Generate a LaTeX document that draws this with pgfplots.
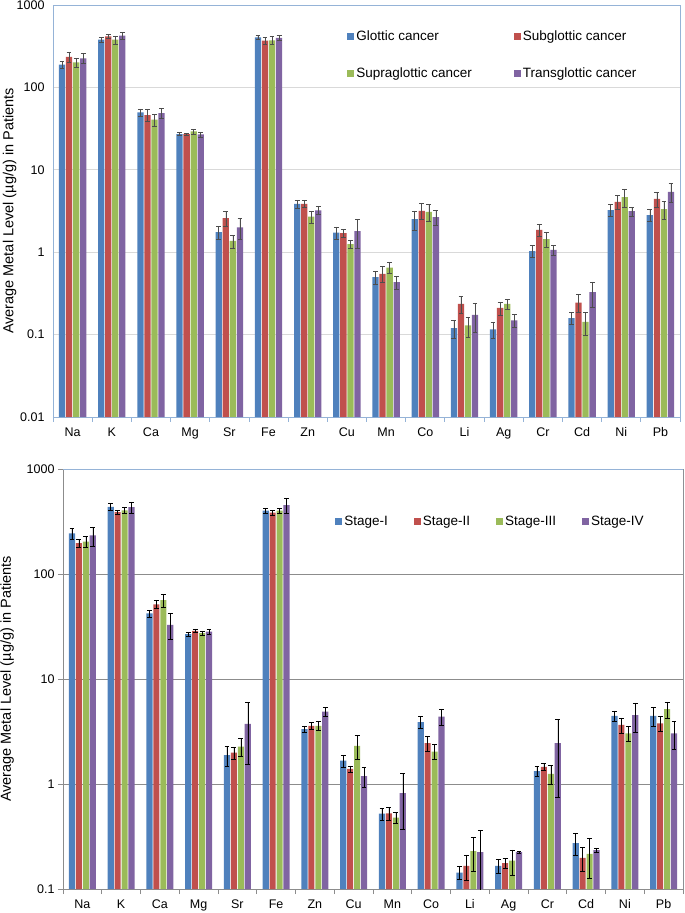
\documentclass[border=0pt]{standalone}
\usepackage{pgfplots}
\pgfplotsset{compat=1.18}
\usepackage{pgfplotstable}
\usepackage{fontspec}
\setmainfont{Liberation Sans}
\definecolor{cB}{HTML}{4F81BD}
\definecolor{cR}{HTML}{C0504D}
\definecolor{cG}{HTML}{9BBB59}
\definecolor{cP}{HTML}{8064A2}
\definecolor{frameblue}{HTML}{95B3D7}
\definecolor{gridlight}{HTML}{D9D9D9}
\definecolor{gridgrey}{HTML}{8C8C8C}
\definecolor{errgrey}{HTML}{4D4D4D}

\pgfplotstableread{
x a ae b be c ce d de
0 189 19 234 33 201 24 225 31
1 379 29 417 28 379 42 424 40
2 49.8 5 46.2 7.4 40.6 6.5 48.9 7.3
3 27.1 1.1 27.1 0.8 29.2 2 26.9 1.8
4 1.75 0.3 2.59 0.52 1.37 0.25 2.0 0.55
5 405 23 369 36 373 43 398 30
6 3.86 0.42 3.86 0.4 2.71 0.47 3.21 0.35
7 1.73 0.3 1.70 0.2 1.25 0.15 1.80 0.7
8 0.50 0.09 0.546 0.12 0.652 0.1 0.432 0.08
9 2.52 0.65 3.18 0.7 3.09 0.7 2.66 0.55
10 0.120 0.029 0.236 0.057 0.129 0.035 0.173 0.067
11 0.116 0.027 0.211 0.038 0.236 0.034 0.149 0.026
12 1.03 0.17 1.87 0.3 1.44 0.3 1.07 0.15
13 0.158 0.026 0.245 0.06 0.143 0.044 0.327 0.11
14 3.24 0.55 4.09 0.75 4.66 1.2 3.15 0.4
15 2.81 0.47 4.45 0.95 3.33 0.8 5.41 1.4
}\topdata

\pgfplotstableread{
x a ae b be c ce d de
0 244 30 197 16 203 24 233 48
1 437 33 389 16 404 27 434 53
2 42.1 3 51.3 4.5 56.4 8 32.8 9
3 26.7 1 28.8 1.2 27.4 1.3 28.2 1.5
4 1.88 0.4 1.99 0.27 2.27 0.45 3.74 2.2
5 401 25 384 22 401 22 454 75
6 3.33 0.25 3.58 0.28 3.58 0.35 4.9 0.45
7 1.67 0.22 1.39 0.1 2.31 0.6 1.19 0.25
8 0.522 0.07 0.526 0.07 0.479 0.06 0.817 0.45
9 3.88 0.5 2.45 0.4 2.04 0.33 4.39 0.8
10 0.143 0.02 0.166 0.045 0.229 0.08 0.224 0.14
11 0.166 0.025 0.176 0.02 0.186 0.05 0.224 0.005
12 1.33 0.15 1.46 0.1 1.25 0.25 2.45 1.7
13 0.274 0.065 0.198 0.05 0.216 0.09 0.234 0.01
14 4.46 0.5 3.66 0.6 3.03 0.5 4.52 1.4
15 4.46 0.9 3.79 0.6 5.16 0.9 3.03 0.9
}\botdata

\pgfplotsset{
  mycommonaxis/.style={
    scale only axis,
    log origin=infty,
    xmin=-0.5, xmax=15.5,
    bar width=0.16,
    xtick={0,...,15},
    xticklabels={Na,K,Ca,Mg,Sr,Fe,Zn,Cu,Mn,Co,Li,Ag,Cr,Cd,Ni,Pb},
    minor xtick={-0.5,0.5,...,15.5},
    xtick pos=left, ytick pos=left,
    tick align=outside,
    major tick length=5pt,
    minor tick length=5pt,
    yminorticks=false,
    ymajorgrids,
    /pgf/number format/assume math mode=true,
    tick label style={font=\fontsize{12.5}{14}\selectfont},
    xticklabel style={yshift=-2pt},
    label style={font=\fontsize{14.5}{16}\selectfont},
    legend style={font=\fontsize{13.5}{15}\selectfont, draw=none, fill=none, inner sep=0pt},
    legend cell align=left,
    ylabel={Average Metal Level (µg/g) in Patients},
  },
  errb/.style={error bars/.cd, y dir=both, y explicit,
    error bar style={#1, line width=0.6pt},
    error mark options={rotate=90, mark size=2.4pt, #1, line width=0.6pt}},
}

\begin{document}
\begin{tikzpicture}
\path[use as bounding box] (0,0) rectangle (685pt,-913pt);
% ---------- top chart ----------
\begin{axis}[mycommonaxis,
  ymode=log, ybar,
  legend image code/.code={\fill[#1] (0pt,-3.5pt) rectangle (7pt,3.5pt);},
  at={(53pt,-5pt)}, anchor=north west,
  width=627pt, height=412pt,
  ymin=0.01, ymax=1000,
  ytick={0.01,0.1,1,10,100,1000},
  yticklabels={0.01,0.1,1,10,100,1000},
  axis line style={draw=frameblue, line width=0.8pt},
  grid style={gridlight, line width=0.8pt},
  ytick style={draw=none},
  xtick style={draw=none},
  minor x tick style={draw=frameblue, line width=0.8pt},
  ylabel style={at={(axis description cs:-0.069,0.5)}, anchor=center},
  legend columns=2,
  legend style={at={(axis description cs:0.469,0.943)}, anchor=north west,
    /tikz/every even column/.append style={column sep=40pt},
    row sep=22pt},
]
\addplot[fill=cB, draw=none, bar shift=-0.27, errb=errgrey] table[x=x,y=a,y error=ae]{\topdata};
\addlegendentry{Glottic cancer}
\addplot[fill=cR, draw=none, bar shift=-0.09, errb=errgrey] table[x=x,y=b,y error=be]{\topdata};
\addlegendentry{Subglottic cancer}
\addplot[fill=cG, draw=none, bar shift=0.09, errb=errgrey] table[x=x,y=c,y error=ce]{\topdata};
\addlegendentry{Supraglottic cancer}
\addplot[fill=cP, draw=none, bar shift=0.27, errb=errgrey] table[x=x,y=d,y error=de]{\topdata};
\addlegendentry{Transglottic cancer}
\end{axis}
% ---------- bottom chart ----------
\begin{axis}[mycommonaxis,
  ymode=log, ybar,
  legend image code/.code={\fill[#1] (0pt,-3.5pt) rectangle (7pt,3.5pt);},
  at={(63pt,-469pt)}, anchor=north west,
  width=620pt, height=420pt,
  ymin=0.1, ymax=1000,
  ytick={0.1,1,10,100,1000},
  yticklabels={0.1,1,10,100,1000},
  axis line style={draw=gridgrey, line width=0.8pt},
  grid style={gridgrey, line width=0.8pt},
  ytick style={draw=gridgrey, line width=0.8pt},
  xtick style={draw=none},
  minor x tick style={draw=gridgrey, line width=0.8pt},
  ylabel style={at={(axis description cs:-0.090,0.5)}, anchor=center},
  legend columns=4,
  legend style={at={(axis description cs:0.439,0.874)}, anchor=west,
    /tikz/every even column/.append style={column sep=24pt}},
]
\addplot[fill=cB, draw=none, bar shift=-0.27, errb=black] table[x=x,y=a,y error=ae]{\botdata};
\addlegendentry{Stage-I}
\addplot[fill=cR, draw=none, bar shift=-0.09, errb=black] table[x=x,y=b,y error=be]{\botdata};
\addlegendentry{Stage-II}
\addplot[fill=cG, draw=none, bar shift=0.09, errb=black] table[x=x,y=c,y error=ce]{\botdata};
\addlegendentry{Stage-III}
\addplot[fill=cP, draw=none, bar shift=0.27, errb=black] table[x=x,y=d,y error=de]{\botdata};
\addlegendentry{Stage-IV}
\draw[frameblue, line width=0.8pt] (rel axis cs:0,1) -- (rel axis cs:1,1) -- (rel axis cs:1,0);
\end{axis}
\end{tikzpicture}
\end{document}
